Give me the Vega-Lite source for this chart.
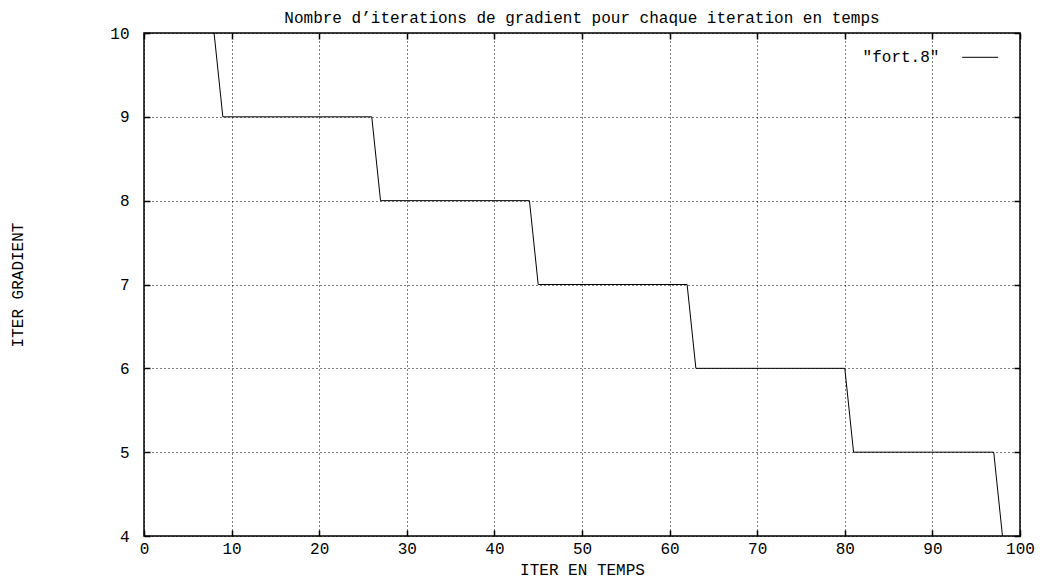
{
  "$schema": "https://vega.github.io/schema/vega-lite/v6.json",
  "width": 876,
  "height": 503,
  "autosize": {"type": "none"},
  "padding": {"left": 144, "top": 33, "right": 23, "bottom": 46},
  "background": "white",
  "config": {
    "font": "Liberation Mono",
    "view": {"stroke": "black", "strokeWidth": 1.5},
    "axis": {
      "labelFont": "Liberation Mono",
      "titleFont": "Liberation Mono",
      "labelFontSize": 16,
      "titleFontSize": 16,
      "titleFontWeight": "normal",
      "labelColor": "black",
      "titleColor": "black",
      "labelFlush": false,
      "domain": false,
      "tickColor": "black",
      "tickSize": -6,
      "tickWidth": 1.5,
      "grid": true,
      "gridColor": "black",
      "gridDash": [1, 3],
      "gridWidth": 1,
      "gridOpacity": 1
    },
    "title": {"font": "Liberation Mono", "fontSize": 16, "fontWeight": "normal", "color": "black", "offset": -1}
  },
  "title": {"text": "Nombre d’iterations de gradient pour chaque iteration en temps"},
  "resolve": {"axis": {"x": "independent", "y": "independent"}},
  "layer": [
    {
      "data": {"values": [
        {"x": 8, "y": 10}, {"x": 9, "y": 9}, {"x": 26, "y": 9}, {"x": 27, "y": 8},
        {"x": 44, "y": 8}, {"x": 45, "y": 7}, {"x": 62, "y": 7}, {"x": 63, "y": 6},
        {"x": 80, "y": 6}, {"x": 81, "y": 5}, {"x": 97, "y": 5}, {"x": 98, "y": 4}
      ]},
      "mark": {"type": "line", "color": "black", "strokeWidth": 1, "clip": true},
      "encoding": {
        "x": {"field": "x", "type": "quantitative", "scale": {"domain": [0, 100], "nice": false},
              "axis": {"title": "ITER EN TEMPS", "values": [0,10,20,30,40,50,60,70,80,90,100], "labelPadding": 10, "titlePadding": 5}},
        "y": {"field": "y", "type": "quantitative", "scale": {"domain": [4, 10], "nice": false, "zero": false},
              "axis": {"title": "ITER GRADIENT", "format": "d", "values": [4,5,6,7,8,9,10], "labelPadding": 21, "titlePadding": 84}}
      }
    },
    {
      "data": {"values": [{"x": 90.8, "y": 9.71, "label": "\"fort.8\""}]},
      "mark": {"type": "text", "align": "right", "baseline": "middle", "font": "Liberation Mono", "fontSize": 16, "color": "black"},
      "encoding": {
        "x": {"field": "x", "type": "quantitative", "axis": null},
        "y": {"field": "y", "type": "quantitative", "axis": null},
        "text": {"field": "label"}
      }
    },
    {
      "data": {"values": [{"x": 93.4, "x2": 97.5, "y": 9.71}]},
      "mark": {"type": "rule", "color": "black", "strokeWidth": 1},
      "encoding": {
        "x": {"field": "x", "type": "quantitative",
              "axis": {"orient": "top", "title": null, "labels": false, "grid": false, "values": [0,10,20,30,40,50,60,70,80,90,100]}},
        "x2": {"field": "x2"},
        "y": {"field": "y", "type": "quantitative",
              "axis": {"orient": "right", "title": null, "labels": false, "grid": false, "values": [4,5,6,7,8,9,10]}}
      }
    }
  ]
}
